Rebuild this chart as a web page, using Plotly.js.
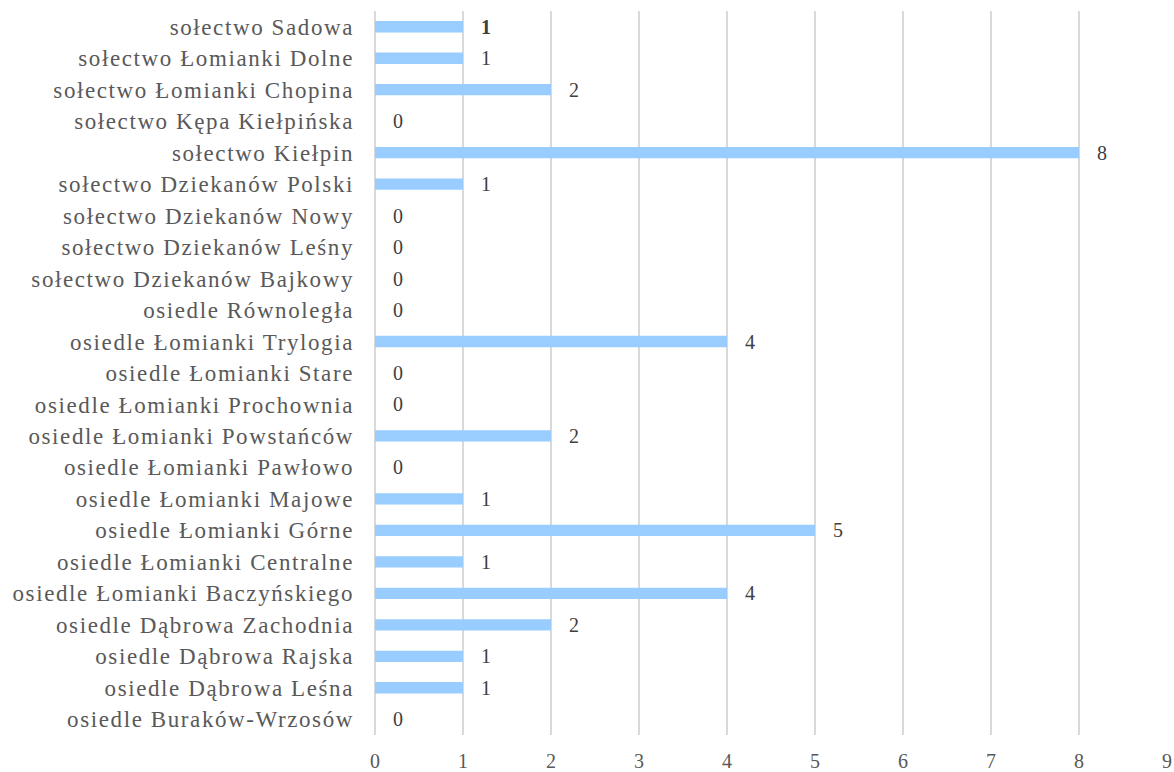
<!DOCTYPE html>
<html>
<head>
<meta charset="utf-8">
<script src="https://cdn.plot.ly/plotly-3.0.1.min.js"></script>
<style>
html,body{margin:0;padding:0;background:#fff;}
#chart{width:1174px;height:772px;}
#chart .ytick text{letter-spacing:1.6px;}
</style>
</head>
<body>
<div id="chart"></div>
<script>
const categories = [
  "sołectwo Sadowa",
  "sołectwo Łomianki Dolne",
  "sołectwo Łomianki Chopina",
  "sołectwo Kępa Kiełpińska",
  "sołectwo Kiełpin",
  "sołectwo Dziekanów Polski",
  "sołectwo Dziekanów Nowy",
  "sołectwo Dziekanów Leśny",
  "sołectwo Dziekanów Bajkowy",
  "osiedle Równoległa",
  "osiedle Łomianki Trylogia",
  "osiedle Łomianki Stare",
  "osiedle Łomianki Prochownia",
  "osiedle Łomianki Powstańców",
  "osiedle Łomianki Pawłowo",
  "osiedle Łomianki Majowe",
  "osiedle Łomianki Górne",
  "osiedle Łomianki Centralne",
  "osiedle Łomianki Baczyńskiego",
  "osiedle Dąbrowa Zachodnia",
  "osiedle Dąbrowa Rajska",
  "osiedle Dąbrowa Leśna",
  "osiedle Buraków-Wrzosów"
];
const values = [1,1,2,0,8,1,0,0,0,0,4,0,0,2,0,1,5,1,4,2,1,1,0];
const xTicks = [0,1,2,3,4,5,6,7,8,9];

const labels = values.map((v, i) => '   ' + (i === 0 ? '<b>' + v + '</b>' : v));

const trace = {
  type: 'bar',
  orientation: 'h',
  y: categories,
  x: values,
  text: labels,
  textposition: 'outside',
  constraintext: 'none',
  cliponaxis: false,
  textfont: {family: 'Liberation Serif, Times New Roman, serif', size: 20, color: '#404040'},
  marker: {color: '#99CCFF'},
  hoverinfo: 'x+y'
};

const layout = {
  width: 1174,
  height: 772,
  margin: {l: 375, r: 7, t: 11, b: 37},
  paper_bgcolor: '#ffffff',
  plot_bgcolor: '#ffffff',
  bargap: 0.64,
  showlegend: false,
  font: {family: 'Liberation Serif, Times New Roman, serif', color: '#595959'},
  xaxis: {
    range: [0, 9],
    tickvals: xTicks,
    ticktext: xTicks.map(String),
    showgrid: true,
    gridcolor: '#D9D9D9',
    gridwidth: 1.3,
    zeroline: true,
    zerolinecolor: '#D9D9D9',
    zerolinewidth: 1.3,
    showline: false,
    ticks: '',
    ticklabelstandoff: 12,
    tickfont: {size: 20, color: '#595959'},
    fixedrange: true
  },
  yaxis: {
    type: 'category',
    autorange: 'reversed',
    showgrid: false,
    zeroline: false,
    showline: false,
    ticks: '',
    ticklabelstandoff: 20,
    tickfont: {size: 23, color: '#595959'},
    fixedrange: true
  }
};

Plotly.newPlot('chart', [trace], layout, {displayModeBar: false, staticPlot: true});
</script>
</body>
</html>
